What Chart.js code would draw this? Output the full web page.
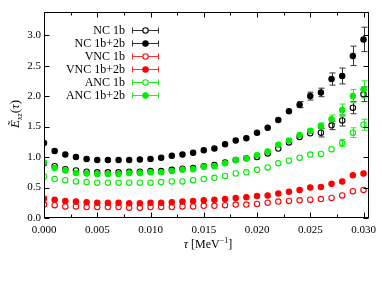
<!DOCTYPE html>
<html><head><meta charset="utf-8">
<script src="https://cdn.jsdelivr.net/npm/chart.js@4"></script>
<style>html,body{margin:0;padding:0;background:#fff}</style>
</head><body>
<canvas id="c" width="382" height="286"></canvas>
<script>
// ---- data ----
const tau = [0.000,0.001,0.002,0.003,0.004,0.005,0.006,0.007,0.008,0.009,0.010,0.011,0.012,0.013,0.014,0.015,0.016,0.017,0.018,0.019,0.020,0.021,0.022,0.023,0.024,0.025,0.026,0.027,0.028,0.029,0.030];
const seriesNames = ["NC 1b","NC 1b+2b","VNC 1b","VNC 1b+2b","ANC 1b","ANC 1b+2b"];
const nc1    = [0.90,0.85,0.80,0.78,0.76,0.75,0.75,0.75,0.76,0.76,0.77,0.77,0.79,0.81,0.82,0.85,0.87,0.91,0.95,0.98,1.00,1.06,1.14,1.24,1.33,1.39,1.40,1.52,1.60,1.81,2.03];
const nc1Err = [0.01,0.01,0.01,0.01,0.01,0.01,0.01,0.01,0.01,0.01,0.01,0.01,0.01,0.01,0.01,0.01,0.01,0.01,0.01,0.01,0.01,0.015,0.02,0.03,0.03,0.04,0.07,0.07,0.09,0.10,0.12];
const nc12   = [1.23,1.10,1.04,1.00,0.97,0.95,0.95,0.95,0.95,0.96,0.97,0.99,1.02,1.04,1.07,1.11,1.14,1.21,1.27,1.31,1.40,1.48,1.61,1.75,1.86,2.00,2.06,2.28,2.33,2.66,2.93];
const nc12Err= [0.01,0.01,0.01,0.01,0.01,0.01,0.01,0.01,0.01,0.01,0.01,0.01,0.01,0.01,0.01,0.01,0.01,0.01,0.01,0.015,0.015,0.02,0.03,0.03,0.05,0.065,0.07,0.10,0.13,0.16,0.20];
const vnc1   = [0.22,0.21,0.19,0.19,0.18,0.18,0.18,0.18,0.17,0.17,0.18,0.18,0.18,0.19,0.19,0.20,0.20,0.21,0.22,0.22,0.23,0.25,0.27,0.28,0.29,0.30,0.31,0.33,0.37,0.44,0.46];
const vnc1Err= [0.005,0.005,0.005,0.005,0.005,0.005,0.005,0.005,0.005,0.005,0.005,0.005,0.005,0.005,0.005,0.005,0.005,0.005,0.005,0.005,0.005,0.005,0.01,0.01,0.01,0.01,0.01,0.01,0.015,0.02,0.02];
const vnc12  = [0.32,0.30,0.28,0.27,0.26,0.25,0.25,0.25,0.24,0.24,0.25,0.25,0.26,0.27,0.28,0.29,0.30,0.31,0.33,0.34,0.36,0.37,0.40,0.43,0.46,0.50,0.51,0.56,0.60,0.70,0.73];
const vnc12Err=[0.005,0.005,0.005,0.005,0.005,0.005,0.005,0.005,0.005,0.005,0.005,0.005,0.005,0.005,0.005,0.005,0.005,0.005,0.005,0.005,0.01,0.01,0.01,0.01,0.01,0.015,0.015,0.015,0.02,0.03,0.03];
const anc1   = [0.68,0.64,0.62,0.60,0.59,0.58,0.58,0.58,0.58,0.58,0.58,0.59,0.60,0.60,0.62,0.64,0.66,0.69,0.73,0.75,0.79,0.83,0.90,0.94,0.99,1.04,1.05,1.13,1.23,1.40,1.53];
const anc1Err= [0.01,0.01,0.01,0.01,0.01,0.01,0.01,0.01,0.01,0.01,0.01,0.01,0.01,0.01,0.01,0.01,0.01,0.01,0.01,0.01,0.01,0.01,0.015,0.02,0.02,0.02,0.03,0.04,0.06,0.08,0.09];
const anc12  = [0.91,0.82,0.78,0.74,0.73,0.72,0.72,0.72,0.74,0.74,0.75,0.75,0.77,0.79,0.80,0.84,0.85,0.90,0.95,0.98,1.03,1.09,1.20,1.27,1.36,1.43,1.51,1.62,1.77,2.00,2.11];
const anc12Err=[0.01,0.01,0.01,0.01,0.01,0.01,0.01,0.01,0.01,0.01,0.01,0.01,0.01,0.01,0.01,0.01,0.01,0.01,0.01,0.01,0.015,0.02,0.02,0.03,0.03,0.04,0.05,0.07,0.10,0.11,0.14];
const xTickValues = [0.000,0.005,0.010,0.015,0.020,0.025,0.030];
const yTickValues = [0.0,0.5,1.0,1.5,2.0,2.5,3.0];

const FONT = "'Liberation Serif', 'Times New Roman', serif";
const styles = [
  {color:'#000000', bar:'#333333', filled:false},
  {color:'#000000', bar:'#333333', filled:true},
  {color:'#ff0000', bar:'#ff3030', filled:false},
  {color:'#ff0000', bar:'#ff3030', filled:true},
  {color:'#00ee00', bar:'#20ee20', filled:false},
  {color:'#00ee00', bar:'#20ee20', filled:true}
];
const values = [nc1, nc12, vnc1, vnc12, anc1, anc12];
const errors = [nc1Err, nc12Err, vnc1Err, vnc12Err, anc1Err, anc12Err];

const datasets = seriesNames.map((name, k) => ({
  label: name,
  data: tau.map((t, i) => ({x: t, y: values[k][i]})),
  errs: errors[k],
  showLine: false,
  pointRadius: 2.7,
  pointHoverRadius: 2.7,
  pointBorderWidth: 1.1,
  pointBorderColor: styles[k].color,
  pointBackgroundColor: styles[k].filled ? styles[k].color : 'rgba(0,0,0,0)',
  order: 5 - k
}));

const decor = {
  id: 'decor',
  beforeDatasetsDraw(chart) {
    const ctx = chart.ctx, xs = chart.scales.x, ys = chart.scales.y;
    ctx.save();
    chart.data.datasets.forEach((ds, k) => {
      ctx.strokeStyle = styles[k].bar;
      ctx.lineWidth = 1;
      ds.data.forEach((p, i) => {
        const e = ds.errs[i];
        const px = Math.round(xs.getPixelForValue(p.x)) + 0.5;
        const y1 = ys.getPixelForValue(p.y + e), y2 = ys.getPixelForValue(p.y - e);
        if (y2 - y1 < 5) return;
        ctx.beginPath();
        ctx.moveTo(px, y1); ctx.lineTo(px, y2);
        ctx.moveTo(px - 3, y1); ctx.lineTo(px + 3, y1);
        ctx.moveTo(px - 3, y2); ctx.lineTo(px + 3, y2);
        ctx.stroke();
      });
    });
    ctx.restore();
  },
  afterDraw(chart) {
    const ctx = chart.ctx, a = chart.chartArea, xs = chart.scales.x, ys = chart.scales.y;
    ctx.save();
    // frame
    ctx.strokeStyle = '#000'; ctx.lineWidth = 1;
    const L = Math.round(a.left) + 0.5, R = Math.round(a.right) - 0.5, T = Math.round(a.top) + 0.5, B = Math.round(a.bottom) - 0.5;
    ctx.strokeRect(L, T, R - L, B - T);
    // ticks
    ctx.beginPath();
    for (let v = 0; v <= xs.max + 1e-9; v += 0.0025) {
      const px = Math.round(xs.getPixelForValue(v)) + 0.5;
      const major = Math.abs(v / 0.005 - Math.round(v / 0.005)) < 1e-6;
      const len = major ? 5 : 3;
      ctx.moveTo(px, B); ctx.lineTo(px, B - len);
      ctx.moveTo(px, T); ctx.lineTo(px, T + len);
    }
    yTickValues.forEach(v => {
      const py = Math.round(ys.getPixelForValue(v)) + 0.5;
      ctx.moveTo(L, py); ctx.lineTo(L + 5, py);
      ctx.moveTo(R, py); ctx.lineTo(R - 5, py);
    });
    ctx.stroke();

    // legend
    ctx.font = '12px ' + FONT;
    ctx.textBaseline = 'middle';
    ctx.textAlign = 'right';
    seriesNames.forEach((name, k) => {
      const y = 30 + 13 * k;
      ctx.fillStyle = '#000';
      ctx.fillText(name, 125, y + 0.5);
      const c = styles[k].color;
      ctx.strokeStyle = styles[k].bar; ctx.lineWidth = 1;
      const yy = Math.round(y) + 0.5;
      ctx.beginPath();
      ctx.moveTo(132, yy); ctx.lineTo(159, yy);
      ctx.moveTo(132.5, yy - 3); ctx.lineTo(132.5, yy + 3);
      ctx.moveTo(158.5, yy - 3); ctx.lineTo(158.5, yy + 3);
      ctx.stroke();
      ctx.beginPath();
      ctx.arc(145.5, yy, 2.7, 0, Math.PI * 2);
      ctx.strokeStyle = c;
      ctx.lineWidth = 1.1;
      if (styles[k].filled) { ctx.fillStyle = c; ctx.fill(); ctx.stroke(); }
      else { ctx.fillStyle = '#fff'; ctx.fill(); ctx.stroke(); }
    });

    // x title: τ [MeV^-1]
    ctx.fillStyle = '#000';
    ctx.textAlign = 'left';
    ctx.textBaseline = 'alphabetic';
    const fI = 'italic 12px ' + FONT, fN = '12px ' + FONT, fS = '8px ' + FONT;
    const parts = [[fI, 'τ', 0], [fN, ' [MeV', 0], [fS, '−1', -5], [fN, ']', 0]];
    let w = 0;
    parts.forEach(p => { ctx.font = p[0]; w += ctx.measureText(p[1]).width; });
    let x = 208 - w / 2; const base = 248;
    parts.forEach(p => { ctx.font = p[0]; ctx.fillText(p[1], x, base + p[2]); x += ctx.measureText(p[1]).width; });

    // y title: Ẽ_xz(τ)
    ctx.translate(19, 114);
    ctx.rotate(-Math.PI / 2);
    const yparts = [['italic 13px ' + FONT, 'Ẽ', 0], ['italic 8px ' + FONT, 'xz', 3], ['13px ' + FONT, '(', 0], ['italic 13px ' + FONT, 'τ', 0], ['13px ' + FONT, ')', 0]];
    w = 0;
    yparts.forEach(p => { ctx.font = p[0]; w += ctx.measureText(p[1]).width; });
    x = -w / 2;
    yparts.forEach(p => { ctx.font = p[0]; ctx.fillText(p[1], x, p[2]); x += ctx.measureText(p[1]).width; });
    ctx.restore();
  }
};

new Chart(document.getElementById('c'), {
  type: 'scatter',
  data: { datasets },
  options: {
    responsive: false,
    animation: false,
    events: [],
    layout: { padding: { left: 0, right: 7, top: 12, bottom: 0 } },
    plugins: { legend: { display: false }, tooltip: { enabled: false } },
    scales: {
      x: {
        type: 'linear', min: 0, max: 0.0305,
        afterFit(s) { s.height = 68; },
        grid: { display: false, drawTicks: false },
        border: { display: false },
        afterBuildTicks(s) { s.ticks = xTickValues.map(v => ({ value: v })); },
        ticks: { callback: v => Number(v).toFixed(3), font: { family: FONT, size: 11 }, color: '#000', padding: 6, maxRotation: 0, autoSkip: false }
      },
      y: {
        type: 'linear', min: 0, max: 3.38,
        afterFit(s) { s.width = 44; },
        grid: { display: false, drawTicks: false },
        border: { display: false },
        afterBuildTicks(s) { s.ticks = yTickValues.map(v => ({ value: v })); },
        ticks: { callback: v => Number(v).toFixed(1), font: { family: FONT, size: 11 }, color: '#000', padding: 3, autoSkip: false }
      }
    }
  },
  plugins: [decor]
});
</script>
</body></html>
